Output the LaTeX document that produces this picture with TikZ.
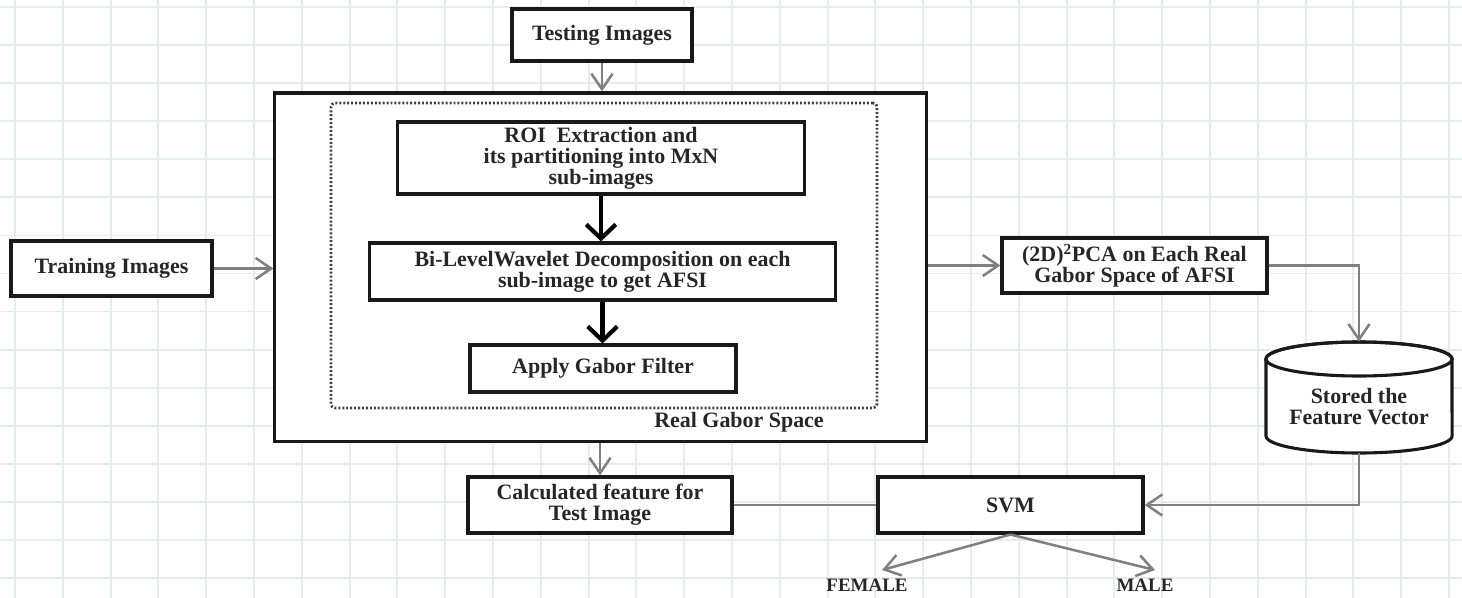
\documentclass[tikz,border=0pt]{standalone}
\usepackage{fontspec}
\setmainfont{Liberation Serif}
\usetikzlibrary{arrows.meta}
\definecolor{gridgray}{RGB}{230,238,235}
\newcommand{\boxfont}{\fontsize{15.6}{15}\selectfont}

\begin{document}
\begin{tikzpicture}[x=0.025cm, y=-0.025cm,
    gridline/.style={draw=gridgray, line width=1.3pt},
    box/.style={draw=black!90, line width=2.2pt, fill=white, text=black!85,
        font=\bfseries\boxfont, align=center, inner sep=0pt},
    lbl/.style={font=\bfseries\boxfont, text=black!85, align=center, inner sep=0pt},
    garrow/.style={draw=black!50, line width=1.8pt, -{Straight Barb[length=11pt,width=15pt]}},
    gline/.style={draw=black!50, line width=1.8pt},
    barrow/.style={draw=black, line width=3pt, -{Straight Barb[length=10pt,width=21pt]}}]
    \useasboundingbox (0,0) rectangle (1462,598);
    \fill[white] (0,0) rectangle (1462,598);

    % Grid
    \foreach \k in {0,...,30} {
        \draw[gridline] ({15+\k*47.8},0) -- ({15+\k*47.8},598);
    }
    \foreach \k in {0,...,15} {
        \draw[gridline] (0,{7+\k*38.07}) -- (1462,{7+\k*38.07});
    }

    % Real Gabor Space block
    \node[box, minimum width=16.275cm, minimum height=8.7cm] (main) at (600.5,267) {};
    \node[draw=black!75, line width=2pt, dash pattern=on 1.4pt off 1.4pt, rounded corners=3pt,
        minimum width=13.65cm, minimum height=7.625cm] (inner) at (604,255.5) {};
    \node[box, minimum width=10.15cm, minimum height=1.8cm] (roi) at (601,158)
        {ROI~\ Extraction and\\its partitioning into MxN\\sub-images};
    \node[box, minimum width=11.625cm, minimum height=1.425cm] (wavelet) at (602.5,271.5)
        {Bi-LevelWavelet Decomposition on each\\sub-image to get AFSI};
    \node[box, minimum width=6.65cm, minimum height=1.175cm] (gabor) at (603,368.5)
        {Apply Gabor Filter};
    \node[lbl] (space) at (739,422) {Real Gabor Space};

    \draw[barrow] (roi.south) -- (roi.south |- wavelet.north);
    \draw[barrow] (wavelet.south) -- (wavelet.south |- gabor.north);

    % Inputs
    \node[box, minimum width=4.5cm, minimum height=1.3cm] (testing) at (602,35) {Testing Images};
    \node[box, minimum width=5.025cm, minimum height=1.375cm] (training) at (111.5,268.5) {Training Images};
    \draw[garrow] (testing.south) -- (testing.south |- main.north);
    \draw[garrow] (training.east) -- (training.east -| main.west);

    % Right side
    \node[box, minimum width=6.625cm, minimum height=1.375cm] (pca) at (1134.5,265.5)
        {(2D)\textsuperscript{2}PCA on Each Real\\Gabor Space of AFSI};
    \node[minimum width=4.65cm, minimum height=2.775cm, inner sep=0pt] (store) at (1359,397.5) {};
    \draw[line width=2.2pt, draw=black!90, fill=white] (1266,359) -- (1266,436)
        arc[start angle=180, end angle=360, x radius=2.325cm, y radius=0.425cm] -- (1452,359)
        arc[start angle=0, end angle=180, x radius=2.325cm, y radius=0.425cm] -- cycle;
    \draw[line width=2.2pt, draw=black!90] (1359,359) ellipse[x radius=2.325cm, y radius=0.425cm];
    \node[lbl] (storetxt) at (1359,407) {Stored the\\Feature Vector};
    \draw[garrow] (main.east |- pca.west) -- (pca.west);
    \draw[garrow] (pca.east) -| (store.north);

    % Classification
    \node[box, minimum width=6.6cm, minimum height=1.4cm] (calc) at (600,505)
        {Calculated feature for\\Test Image};
    \node[box, minimum width=6.625cm, minimum height=1.4cm] (svm) at (1010.5,505) {SVM};
    \draw[garrow] (main.south -| calc.north) -- (calc.north);
    \draw[gline] (calc.east) -- (svm.west);
    \draw[garrow] (store.south) |- (svm.east);

    \node[lbl, font=\bfseries\fontsize{13.5}{13}\selectfont] (female) at (867,585) {FEMALE};
    \node[lbl, font=\bfseries\fontsize{13.5}{13}\selectfont] (male) at (1145,585) {MALE};
    \coordinate (ftip) at (882,570);
    \coordinate (mtip) at (1155,570);
    \draw[garrow] (svm.south) -- (ftip);
    \draw[garrow] (svm.south) -- (mtip);
\end{tikzpicture}
\end{document}
